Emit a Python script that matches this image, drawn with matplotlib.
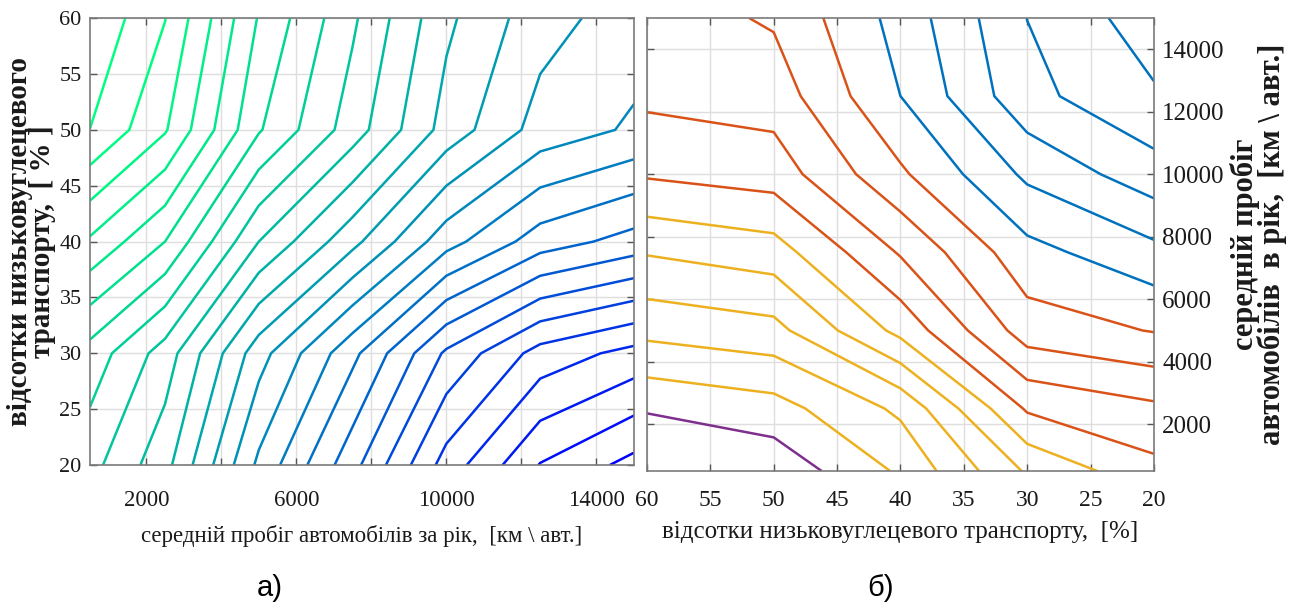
"""Contour maps: low-carbon transport share vs. average annual mileage."""
import matplotlib.pyplot as plt
import numpy as np
from matplotlib.colors import PowerNorm

# grid nodes shared by both panels
MILEAGE = [500, 2500, 5000, 7500, 10000, 12500, 15000]
SHARE = [20, 30, 40, 50, 60]

# panel a): rows = SHARE, cols = MILEAGE (value = contour level index)
Z_A = [
    [8.65, 10.66, 15.22, 18.66, 22.43, 25.05, 26.33],
    [7.40, 9.45, 13.59, 16.73, 20.18, 22.40, 23.33],
    [4.15, 6.00, 10.00, 12.70, 15.60, 17.50, 18.38],
    [1.01, 2.90, 6.90, 9.50, 12.40, 14.40, 15.15],
    [0.14, 1.97, 6.08, 8.83, 11.79, 13.60, 14.50],
]
LEVELS_A = list(range(1, 27))

# panel b): rows = MILEAGE, cols = SHARE
Z_B = [
    [6.70, 5.13, 2.15, 0.30, -0.80],
    [7.79, 7.13, 3.20, 1.60, 1.15],
    [10.05, 9.50, 6.30, 3.67, 3.28],
    [11.70, 10.67, 8.10, 5.53, 5.07],
    [13.58, 12.20, 9.83, 7.46, 7.11],
    [14.87, 13.70, 11.00, 8.46, 8.23],
    [15.55, 14.01, 11.37, 9.12, 8.50],
]
LEVELS_B = list(range(1, 16))

MILEAGE_TICKS_A = [2000, 4000, 6000, 8000, 10000, 12000, 14000]
MILEAGE_LABELS_A = ["2000", "", "6000", "", "10000", "", "14000"]
SHARE_TICKS = [20, 25, 30, 35, 40, 45, 50, 55, 60]
MILEAGE_TICKS_B = [2000, 4000, 6000, 8000, 10000, 12000, 14000]

# MATLAB "lines" colours for panel b)
PURPLE, YELLOW, ORANGE, BLUE = "#7E2F8E", "#EDB120", "#D95319", "#0072BD"
COLORS_B = [PURPLE] + [YELLOW] * 5 + [ORANGE] * 4 + [BLUE] * 5

SERIF = "Liberation Serif"
GRID = "#dedede"
FRAME = "#7a7a7a"
INK = "#1a1a1a"

plt.rcParams["font.family"] = [SERIF, "DejaVu Serif"]


def style_axes(ax, size):
    ax.grid(True, color=GRID, linewidth=1.0)
    ax.set_axisbelow(True)
    for sp in ax.spines.values():
        sp.set_color(FRAME)
        sp.set_linewidth(1.2)
    ax.tick_params(direction="in", length=5, width=1, color="#555555",
                   top=True, right=True, labelsize=size, labelcolor=INK)


def main():
    fig = plt.figure(figsize=(12.93, 6.13), dpi=100)

    # ---- a)
    ax = fig.add_axes([0.0696, 0.2414, 0.4207, 0.729])
    X, Y = np.meshgrid(MILEAGE, SHARE)
    ax.contour(X, Y, np.array(Z_A), levels=LEVELS_A, cmap="winter_r",
               norm=PowerNorm(gamma=1.3, vmin=1, vmax=26), linewidths=1.8)
    ax.set_xlim(500, 15000)
    ax.set_ylim(20, 60)
    ax.set_xticks(MILEAGE_TICKS_A)
    ax.set_xticklabels(MILEAGE_LABELS_A)
    ax.set_yticks(SHARE_TICKS)
    style_axes(ax, 16.5)
    ax.tick_params(axis="x", pad=18)
    ax.tick_params(axis="y", pad=6, labelsize=16)
    ax.set_xlabel("середній пробіг автомобілів за рік,  [км \\ авт.]",
                  fontsize=16.5, color=INK, labelpad=10)
    ax.set_ylabel("відсотки низьковуглецевого\nтранспорту,  [ % ]",
                  fontsize=21, fontweight="bold", color=INK,
                  linespacing=0.8)
    ax.yaxis.set_label_coords(-0.062, 0.5)

    # ---- б)
    bx = fig.add_axes([0.5004, 0.2316, 0.392, 0.739])
    P, M = np.meshgrid(SHARE, MILEAGE)
    bx.contour(P, M, np.array(Z_B), levels=LEVELS_B, colors=COLORS_B,
               linewidths=1.8)
    bx.set_xlim(60, 20)
    bx.set_ylim(500, 15000)
    bx.set_xticks(SHARE_TICKS)
    bx.set_yticks(MILEAGE_TICKS_B)
    style_axes(bx, 17)
    bx.tick_params(axis="y", labelleft=False, labelright=True, pad=6,
                   labelsize=18)
    bx.tick_params(axis="x", pad=14)
    bx.set_xlabel("відсотки низьковуглецевого транспорту,  [%]",
                  fontsize=18, color=INK, labelpad=7)
    bx.yaxis.set_label_position("right")
    bx.set_ylabel("середній пробіг\nавтомобілів  в рік,  [км \\ авт.]",
                  fontsize=22, fontweight="bold", color=INK,
                  labelpad=4, linespacing=0.85, rotation=90)

    fig.text(0.209, 0.041, "а)", fontfamily="Liberation Sans", fontsize=21,
             ha="center", va="center")
    fig.text(0.681, 0.041, "б)", fontfamily="Liberation Sans", fontsize=21,
             ha="center", va="center")

    fig.savefig("out.png", dpi=100)
    plt.close(fig)


if __name__ == "__main__":
    main()
